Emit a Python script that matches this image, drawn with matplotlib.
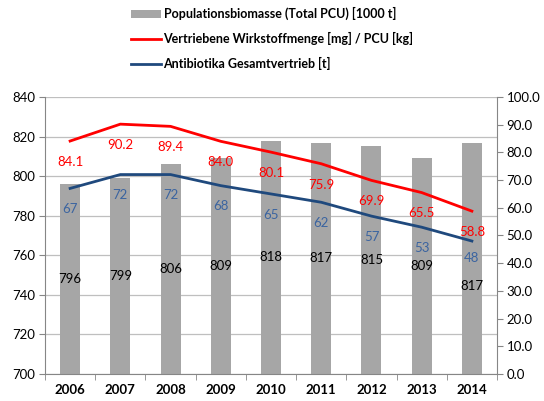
import numpy as np
import matplotlib.pyplot as plt
from matplotlib.patches import Patch
from matplotlib.lines import Line2D

plt.rcParams['font.family'] = ['Lato', 'DejaVu Sans']

years = ['2006', '2007', '2008', '2009', '2010', '2011', '2012', '2013', '2014']
biomasse = [796, 799, 806, 809, 818, 817, 815, 809, 817]
wirkstoff = [84.1, 90.2, 89.4, 84.0, 80.1, 75.9, 69.9, 65.5, 58.8]
gesamt = [67, 72, 72, 68, 65, 62, 57, 53, 48]

bar_color = '#a6a6a6'
red = '#ff0000'
blue = '#1f497d'
blue_lbl = '#3b64a0'
axis_gray = '#868686'
grid_gray = '#bfbfbf'

fig = plt.figure(figsize=(5.44, 4.01), dpi=100)
ax = fig.add_axes([45 / 544, 1 - 374 / 401, 452 / 544, 277 / 401])
x = np.arange(len(years))

ax.bar(x, biomasse, width=0.4, color=bar_color, zorder=2)
ax.set_ylim(700, 840)
ax.set_yticks(np.arange(700, 841, 20))
ax.set_xlim(-0.5, len(years) - 0.5)
ax.set_xticks(x)
ax.set_xticklabels(years, fontweight='bold')
ax.set_xticks(np.arange(-0.5, len(years), 1), minor=True)
ax.tick_params(axis='x', which='major', length=0, pad=7, labelsize=9.5)
ax.tick_params(axis='x', which='minor', length=4, color=axis_gray, direction='out')
ax.tick_params(axis='y', length=4, color=axis_gray, labelsize=9.5, pad=3)
ax.yaxis.grid(True, color=grid_gray, linewidth=0.9, zorder=0)
ax.set_axisbelow(True)
for s in ['top', 'right']:
    ax.spines[s].set_visible(False)
for s in ['left', 'bottom']:
    ax.spines[s].set_color(axis_gray)

# bar labels sit mid-bar; the last one is pushed down to clear the "48"
for i, v in enumerate(biomasse):
    off = -20 if i == len(years) - 1 else 0
    ax.annotate(str(v), (x[i], (700 + v) / 2), xytext=(0, off), textcoords='offset points',
                ha='center', va='center', fontsize=9.5, color='black', zorder=5)

ax2 = ax.twinx()
ax2.plot(x, wirkstoff, color=red, linewidth=2, zorder=3)
ax2.plot(x, gesamt, color=blue, linewidth=2, zorder=3)
ax2.set_ylim(0, 100)
ax2.set_yticks(np.arange(0, 101, 10))
ax2.set_yticklabels([f'{t:.1f}' for t in np.arange(0, 101, 10)])
ax2.tick_params(axis='y', length=4, color=axis_gray, labelsize=9.5, pad=3)
for s in ['top', 'left', 'bottom']:
    ax2.spines[s].set_visible(False)
ax2.spines['right'].set_color(axis_gray)

for i, v in enumerate(wirkstoff):
    ax2.annotate(f'{v:.1f}', (x[i], v), xytext=(0, -15), textcoords='offset points',
                 ha='center', va='center', fontsize=9.5, color=red)
for i, v in enumerate(gesamt):
    off = -12 if i == len(years) - 1 else -15
    ax2.annotate(str(v), (x[i], v), xytext=(0, off), textcoords='offset points',
                 ha='center', va='center', fontsize=9.5, color=blue_lbl)

handles = [Patch(facecolor=bar_color, edgecolor='none'),
           Line2D([], [], color=red, linewidth=2),
           Line2D([], [], color=blue, linewidth=2)]
labels = ['Populationsbiomasse (Total PCU) [1000 t]',
          'Vertriebene Wirkstoffmenge [mg] / PCU [kg]',
          'Antibiotika Gesamtvertrieb [t]']
fig.legend(handles, labels, loc='upper left', bbox_to_anchor=(131 / 544, 1 - 7 / 401),
           frameon=False, borderpad=0, borderaxespad=0, handlelength=2.4,
           handleheight=0.6, handletextpad=0.2, labelspacing=0.95,
           prop={'size': 9, 'weight': 'bold'})

fig.savefig('out.png', dpi=100)
